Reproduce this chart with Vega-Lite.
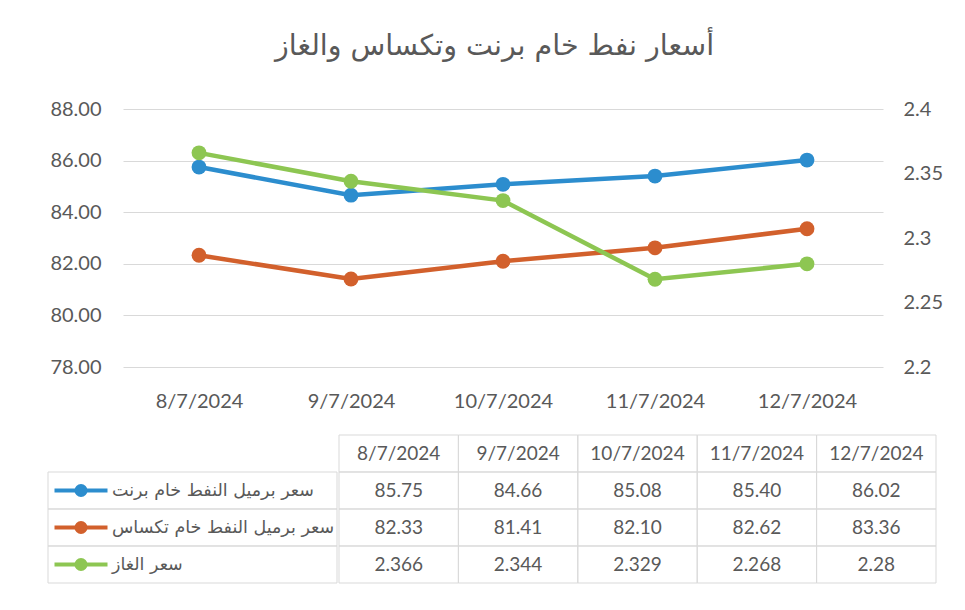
{
  "$schema": "https://vega.github.io/schema/vega-lite/v6.json",
  "padding": {"left": 46, "top": 31, "right": 0, "bottom": 0},
  "background": "white",
  "title": {"text": "أسعار نفط خام برنت وتكساس والغاز", "font": "DejaVu Sans", "fontSize": 28.5, "fontWeight": "normal", "color": "#595959", "anchor": "middle", "offset": 39},
  "datasets": {
    "prices": [
      {"date": "8/7/2024", "series": "سعر برميل النفط خام برنت", "value": 85.75},
      {"date": "9/7/2024", "series": "سعر برميل النفط خام برنت", "value": 84.66},
      {"date": "10/7/2024", "series": "سعر برميل النفط خام برنت", "value": 85.08},
      {"date": "11/7/2024", "series": "سعر برميل النفط خام برنت", "value": 85.40},
      {"date": "12/7/2024", "series": "سعر برميل النفط خام برنت", "value": 86.02},
      {"date": "8/7/2024", "series": "سعر برميل النفط خام تكساس", "value": 82.33},
      {"date": "9/7/2024", "series": "سعر برميل النفط خام تكساس", "value": 81.41},
      {"date": "10/7/2024", "series": "سعر برميل النفط خام تكساس", "value": 82.10},
      {"date": "11/7/2024", "series": "سعر برميل النفط خام تكساس", "value": 82.62},
      {"date": "12/7/2024", "series": "سعر برميل النفط خام تكساس", "value": 83.36},
      {"date": "8/7/2024", "series": "سعر الغاز", "value": 2.366},
      {"date": "9/7/2024", "series": "سعر الغاز", "value": 2.344},
      {"date": "10/7/2024", "series": "سعر الغاز", "value": 2.329},
      {"date": "11/7/2024", "series": "سعر الغاز", "value": 2.268},
      {"date": "12/7/2024", "series": "سعر الغاز", "value": 2.28}
    ]
  },
  "concat": [
    {
      "hconcat": [
        {
          "width": 1,
          "height": 258,
          "data": {"values": []},
          "mark": {"type": "point", "opacity": 0},
          "encoding": {}
        },
        {
          "width": 760,
          "height": 258,
          "data": {"name": "prices"},
          "layer": [
            {
              "transform": [{"filter": "datum.series !== 'سعر الغاز'"}],
              "encoding": {
                "x": {"field": "date", "type": "ordinal", "sort": ["8/7/2024", "9/7/2024", "10/7/2024", "11/7/2024", "12/7/2024"], "axis": {"title": null, "ticks": false, "domain": false, "grid": false, "labelPadding": 24, "labelAngle": 0, "labelFontSize": 20}},
                "y": {"field": "value", "type": "quantitative", "scale": {"domain": [78, 88], "zero": false, "nice": false}, "axis": {"title": null, "values": [78, 80, 82, 84, 86, 88], "format": ".2f", "grid": true, "domain": false, "ticks": false, "labelPadding": 22}},
                "color": {"field": "series", "type": "nominal", "scale": {"domain": ["سعر برميل النفط خام برنت", "سعر برميل النفط خام تكساس", "سعر الغاز"], "range": ["#2c8dce", "#d2602c", "#8dc652"]}, "legend": null}
              },
              "layer": [
                {"mark": {"type": "line", "strokeWidth": 4.5}},
                {"mark": {"type": "point", "filled": true, "size": 220, "opacity": 1}}
              ]
            },
            {
              "transform": [{"filter": "datum.series === 'سعر الغاز'"}],
              "encoding": {
                "x": {"field": "date", "type": "ordinal", "sort": ["8/7/2024", "9/7/2024", "10/7/2024", "11/7/2024", "12/7/2024"]},
                "y": {"field": "value", "type": "quantitative", "scale": {"domain": [2.2, 2.4], "zero": false, "nice": false}, "axis": {"orient": "right", "title": null, "values": [2.2, 2.25, 2.3, 2.35, 2.4], "format": ".3~f", "grid": false, "domain": false, "ticks": false, "labelPadding": 20}},
                "color": {"field": "series", "type": "nominal", "scale": {"domain": ["سعر برميل النفط خام برنت", "سعر برميل النفط خام تكساس", "سعر الغاز"], "range": ["#2c8dce", "#d2602c", "#8dc652"]}, "legend": null}
              },
              "layer": [
                {"mark": {"type": "line", "strokeWidth": 4.5}},
                {"mark": {"type": "point", "filled": true, "size": 220, "opacity": 1}}
              ]
            }
          ],
          "resolve": {"scale": {"y": "independent"}}
        }
      ],
      "spacing": 0
    },
    {
      "hconcat": [
        {
          "width": 289,
          "height": 148,
          "data": {"name": "prices"},
          "transform": [{"filter": "datum.date === '8/7/2024'"}],
          "encoding": {
            "y": {"field": "series", "type": "nominal", "scale": {"domain": ["header", "سعر برميل النفط خام برنت", "سعر برميل النفط خام تكساس", "سعر الغاز"], "paddingInner": 0, "paddingOuter": 0}, "axis": null}
          },
          "layer": [
            {"mark": {"type": "rect", "fill": "transparent", "stroke": "#d9d9d9", "strokeWidth": 1}, "encoding": {"x": {"value": 0}, "x2": {"value": "width"}}},
            {"mark": {"type": "point", "shape": "M-1,0L1,0", "size": 2809, "filled": false, "strokeWidth": 4, "opacity": 1}, "encoding": {"x": {"value": 33}, "color": {"field": "series", "type": "nominal", "scale": {"domain": ["سعر برميل النفط خام برنت", "سعر برميل النفط خام تكساس", "سعر الغاز"], "range": ["#2c8dce", "#d2602c", "#8dc652"]}, "legend": null}}},
            {"mark": {"type": "point", "shape": "circle", "size": 170, "filled": true, "opacity": 1}, "encoding": {"x": {"value": 33}, "color": {"field": "series", "type": "nominal", "scale": {"domain": ["سعر برميل النفط خام برنت", "سعر برميل النفط خام تكساس", "سعر الغاز"], "range": ["#2c8dce", "#d2602c", "#8dc652"]}, "legend": null}}},
            {"mark": {"type": "text", "align": "left", "baseline": "middle", "font": "DejaVu Sans", "fontSize": 17.5, "color": "#595959"}, "encoding": {"x": {"value": 64}, "text": {"field": "series"}}}
          ]
        },
        {
          "width": 597,
          "height": 148,
          "data": {"name": "prices"},
          "encoding": {
            "x": {"field": "date", "type": "ordinal", "sort": ["8/7/2024", "9/7/2024", "10/7/2024", "11/7/2024", "12/7/2024"], "scale": {"paddingInner": 0, "paddingOuter": 0}, "axis": null}
          },
          "layer": [
            {"mark": {"type": "rect", "fill": "transparent", "stroke": "#d9d9d9", "strokeWidth": 1}, "encoding": {"y": {"field": "series", "type": "nominal", "scale": {"domain": ["header", "سعر برميل النفط خام برنت", "سعر برميل النفط خام تكساس", "سعر الغاز"], "paddingInner": 0, "paddingOuter": 0}, "axis": null}}},
            {"transform": [{"filter": "datum.series === 'سعر الغاز'"}], "mark": {"type": "rect", "fill": "transparent", "stroke": "#d9d9d9", "strokeWidth": 1}, "encoding": {"y": {"datum": "header", "type": "nominal"}}},
            {"transform": [{"filter": "datum.series === 'سعر الغاز'"}], "mark": {"type": "text", "baseline": "middle", "font": "Lato", "fontSize": 19, "color": "#595959"}, "encoding": {"y": {"datum": "header", "type": "nominal"}, "text": {"field": "date"}}},
            {"transform": [{"filter": "datum.series !== 'سعر الغاز'"}], "mark": {"type": "text", "baseline": "middle", "font": "Lato", "fontSize": 19, "color": "#595959"}, "encoding": {"y": {"field": "series", "type": "nominal"}, "text": {"field": "value", "format": ".2f"}}},
            {"transform": [{"filter": "datum.series === 'سعر الغاز'"}], "mark": {"type": "text", "baseline": "middle", "font": "Lato", "fontSize": 19, "color": "#595959"}, "encoding": {"y": {"field": "series", "type": "nominal"}, "text": {"field": "value", "format": ".3~f"}}}
          ]
        }
      ],
      "spacing": 0
    }
  ],
  "columns": 1,
  "spacing": 23,
  "config": {
    "view": {"stroke": null},
    "axis": {"labelFont": "Lato", "labelFontSize": 20, "labelColor": "#595959", "gridColor": "#d9d9d9", "gridWidth": 1},
    "text": {"font": "Lato"}
  }
}
